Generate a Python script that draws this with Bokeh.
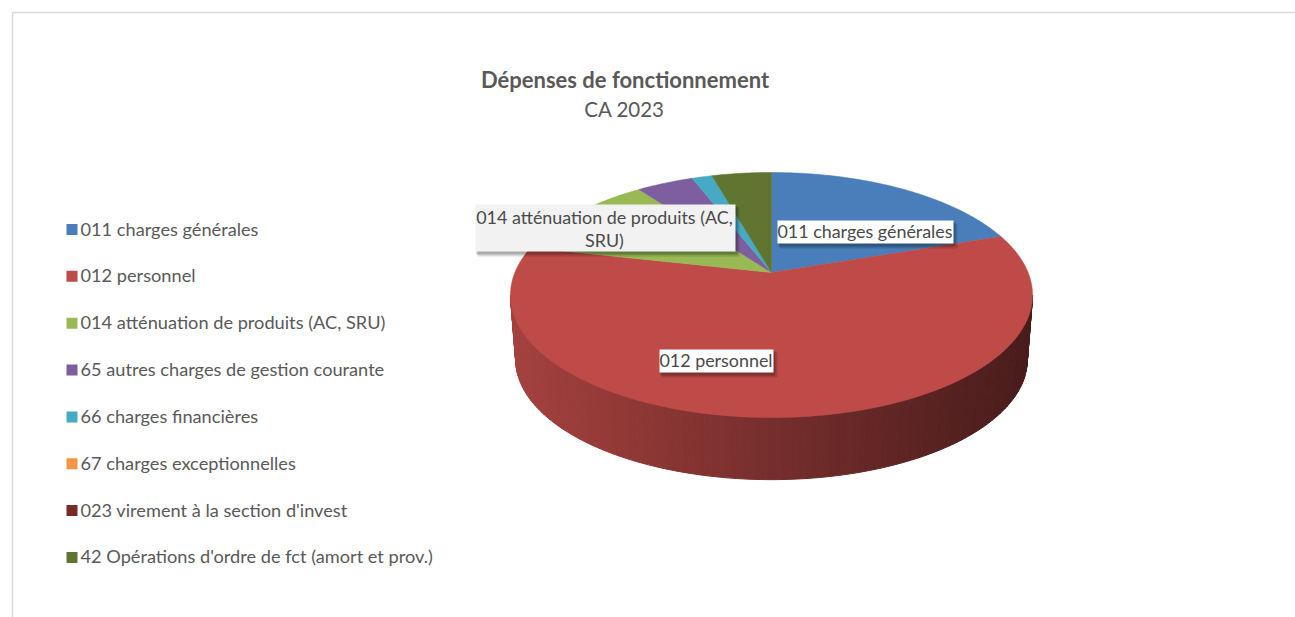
import math
from bokeh.plotting import figure
from bokeh.models import Range1d
from bokeh.core.properties import value
from bokeh.embed import file_html
from bokeh.resources import INLINE

categories = ["011 charges générales", "012 personnel", "014 atténuation de produits (AC, SRU)",
              "65 autres charges de gestion courante", "66 charges financières",
              "67 charges exceptionnelles", "023 virement à la section d'invest",
              "42 Opérations d'ordre de fct (amort et prov.)"]
values = [19.8, 58.7, 11.4, 4.2, 1.5, 0.0, 0.0, 4.4]
colors = ["#4A7EBB", "#BE4B48", "#98B954", "#7D5FA0", "#46AAC5", "#F79646", "#772C2A", "#5F7530"]
title = "Dépenses de fonctionnement"
subtitle = "CA 2023"
FONT = "Lato"

# pie geometry (page pixels)
AX, AY = 771, 272      # apex
A, B, K = 118.4, 256.6, -0.1837   # perspective
DEPTH, SHRINK = 65, 0.98

def rgb(h, f=1.0):
    return "#%02x%02x%02x" % tuple(min(255, int(int(h[i:i+2], 16) * f)) for i in (1, 3, 5))

def top(theta):
    u, v = math.sin(theta), -math.cos(theta)
    w = 1 + K * v
    return B * u / w, A * v / w

def arc(a, b):
    n = max(2, int(abs(b - a) / 0.01))
    return [a + (b - a) * i / n for i in range(n + 1)]

p = figure(width=1295, height=617, output_backend="svg", toolbar_location=None,
           x_range=Range1d(0, 1295), y_range=Range1d(617, 0),
           x_axis_type=None, y_axis_type=None, min_border=0, outline_line_color=None)
p.grid.visible = False

# chart frame
p.line([12, 12, 1295], [617, 12, 12], line_color="#D9D9D9", line_width=1.5)

# wall + top face
total = sum(values)
th0, th1 = math.acos(K), 2 * math.pi - math.acos(K)
cum = 0.0
wall_x, wall_y, wall_c = [], [], []
face_x, face_y, face_c = [], [], []
for val, col in zip(values, colors):
    if val <= 0:
        continue
    a, b = cum / total * 2 * math.pi, (cum + val) / total * 2 * math.pi
    cum += val
    pts = [top(t) for t in arc(a, b)]
    face_x.append([AX] + [AX + x for x, _ in pts])
    face_y.append([AY] + [AY + y for _, y in pts])
    face_c.append(col)
    lo, hi = max(a, th0), min(b, th1)
    if lo < hi:
        ts = arc(lo, hi)
        ts = ts[::max(1, len(ts) // 130)] + [hi]
        for t0, t1 in zip(ts[:-1], ts[1:]):
            x0, y0 = top(t0)
            x1, y1 = top(t1)
            wall_x.append([AX + x0, AX + x1, AX + SHRINK * x1, AX + SHRINK * x0])
            wall_y.append([AY + y0, AY + y1, AY + DEPTH + SHRINK * y1, AY + DEPTH + SHRINK * y0])
            frac = (x0 + 261) / 522
            c = rgb(col, 0.87 - 0.49 * frac)
            wall_c.append(c)

p.patches(wall_x, wall_y, fill_color=wall_c, line_color=wall_c, line_width=1)
p.patches(face_x, face_y, fill_color=face_c, line_color=face_c, line_width=0.5)

# data labels
label_boxes = [(777, 953, 220, 243, "#FFFFFF"), (659, 773, 349, 372, "#FFFFFF"), (475, 735, 204, 251, "#F2F2F2")]
label_text = [("011 charges générales", 864.5, 230.5), ("012 personnel", 715.5, 359.5),
              ("014 atténuation de produits (AC,", 604, 216), ("SRU)", 604, 239.5)]
for x0, x1, y0, y1, c in label_boxes:
    p.quad(left=x0 + 2, right=x1 + 4, top=y0 + 3, bottom=y1 + 5, fill_color="#000000", fill_alpha=0.14, line_color=None)
    p.quad(left=x0 + 1, right=x1 + 2, top=y0 + 2, bottom=y1 + 3, fill_color="#000000", fill_alpha=0.22, line_color=None)
    p.quad(left=x0, right=x1, top=y0, bottom=y1, fill_color=c, line_color=None)
p.text(x=[t[1] for t in label_text], y=[t[2] for t in label_text], text=[t[0] for t in label_text],
       text_font=value(FONT), text_font_size="17.9px", text_color="#4A4A4A",
       text_align="center", text_baseline="middle")

# title
p.text(x=[624.5], y=[79], text=[title], text_font=value(FONT), text_font_style="bold",
       text_font_size="22px", text_color="#595959", text_align="center", text_baseline="middle")
p.text(x=[624], y=[108], text=[subtitle], text_font=value(FONT),
       text_font_size="20.5px", text_color="#595959", text_align="center", text_baseline="middle")

# legend
leg_y = [229 + 46.85 * i for i in range(len(categories))]
p.scatter(x=[71.5] * len(categories), y=leg_y, marker="square", size=11, fill_color=colors, line_color=None)
p.text(x=[80] * len(categories), y=[y - 1 for y in leg_y], text=categories, text_font=value(FONT),
       text_font_size="18.2px", text_color="#595959", text_align="left", text_baseline="middle")

open("out.html", "w").write(file_html(p, INLINE))
